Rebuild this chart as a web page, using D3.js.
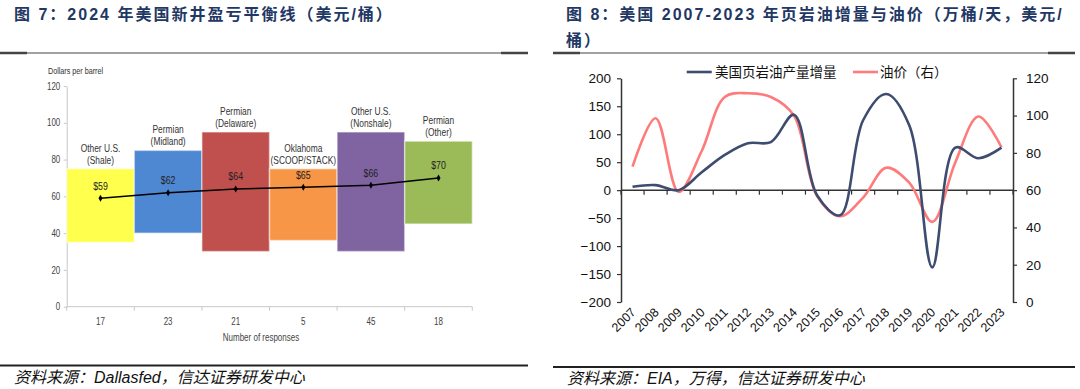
<!DOCTYPE html>
<html>
<head>
<meta charset="utf-8">
<script src="https://cdn.jsdelivr.net/npm/d3@7/dist/d3.min.js"></script>
<style>
  body { margin: 0; background: #fff; }
  svg text { font-family: "Liberation Sans", Arial, "Noto Sans CJK SC", sans-serif; }
  .title { font-weight: bold; fill: #1f3864; font-size: 16px; letter-spacing: 2px; }
  .source { font-style: italic; font-size: 16px; fill: #111; }
</style>
</head>
<body>
<svg id="chart" width="1080" height="389"></svg>
<script>
// ---- data: left chart (breakeven by region)
var regionName = ["Other U.S.", "Permian", "Permian", "Oklahoma", "Other U.S.", "Permian"];
var regionSub = ["(Shale)", "(Midland)", "(Delaware)", "(SCOOP/STACK)", "(Nonshale)", "(Other)"];
var responses = ["17", "23", "21", "5", "45", "18"];
var rangeLow = [35, 40, 30, 36, 30, 45];
var rangeHigh = [75, 85, 95, 75, 95, 90];
var breakeven = [59, 62, 64, 65, 66, 70];
var yTicksLeft = [0, 20, 40, 60, 80, 100, 120];

// ---- data: right chart (shale output change vs oil price)
var years = ["2007", "2008", "2009", "2010", "2011", "2012", "2013", "2014", "2015",
  "2016", "2017", "2018", "2019", "2020", "2021", "2022", "2023"];
var shaleAdd = [6, 9, 0, 32, 63, 84, 86, 135, -9, -45, 125, 172, 116, -138, 76, 57, 76];
var oilPrice = [72.6, 98.6, 59, 81, 110, 112, 110, 100, 57, 46, 56, 72, 64, 43, 75, 99.5, 83];
var shaleTicks = [-200, -150, -100, -50, 0, 50, 100, 150, 200];
var priceTicks = [0, 20, 40, 60, 80, 100, 120];

var barColors = ["#ffff4d", "#4f88d2", "#c0504d", "#f79646", "#8064a2", "#9bbb59"];

var svg = d3.select("#chart");

// narrow-looking text: no condensed font installed, so squeeze horizontally
var squeeze = 0.8;
function placeNarrow(sel, xf, yf) {
  sel.attr("transform", (d, i) => "translate(" + xf(d, i) + "," + yf(d, i) + ") scale(" + squeeze + ",1)");
}

// ---- titles, separators, sources
svg.append("text").attr("class", "title").attr("x", 14).attr("y", 20)
  .text("图 7：2024 年美国新井盈亏平衡线（美元/桶）");
svg.append("text").attr("class", "title").attr("x", 566).attr("y", 20)
  .text("图 8：美国 2007-2023 年页岩油增量与油价（万桶/天，美元/");
svg.append("text").attr("class", "title").attr("x", 566).attr("y", 46)
  .text("桶）");

function separator(x0, x1, y) {
  svg.append("line").attr("x1", x0).attr("x2", x1).attr("y1", y).attr("y2", y)
    .attr("stroke", "#444").attr("stroke-width", 1.2);
  svg.append("line").attr("x1", x0).attr("x2", x0 + 27).attr("y1", y).attr("y2", y)
    .attr("stroke", "#444").attr("stroke-width", 2.5);
  svg.append("line").attr("x1", x1 - 27).attr("x2", x1).attr("y1", y).attr("y2", y)
    .attr("stroke", "#444").attr("stroke-width", 2.5);
}
separator(0, 528, 53);
separator(553, 1075, 53);

svg.append("line").attr("x1", 0).attr("x2", 528).attr("y1", 365.5).attr("y2", 365.5)
  .attr("stroke", "#222").attr("stroke-width", 2);
svg.append("line").attr("x1", 553).attr("x2", 1075).attr("y1", 367).attr("y2", 367)
  .attr("stroke", "#222").attr("stroke-width", 2);
svg.append("text").attr("class", "source").attr("x", 14).attr("y", 383)
  .text("资料来源：Dallasfed，信达证券研发中心");
svg.append("text").attr("class", "source").attr("x", 567).attr("y", 384)
  .text("资料来源：EIA，万得，信达证券研发中心");

// ===================== left chart =====================
var yL = d3.scaleLinear().domain([0, 120]).range([306.7, 86]);
var xL = d3.scaleBand().domain(d3.range(responses.length)).range([66.7, 472.3]);
var bw = xL.bandwidth();

var left = svg.append("g");

left.append("text").attr("font-size", 9).attr("fill", "#333").text("Dollars per barrel")
  .call(placeNarrow, () => 48, () => 74);

var leftAxis = d3.axisLeft(yL).tickValues(yTicksLeft).tickSize(3).tickSizeOuter(0).tickPadding(5);
var yAxisL = left.append("g").attr("transform", "translate(66.7,0)").call(leftAxis);
yAxisL.select(".domain").attr("stroke", "#c8c8c8");
yAxisL.selectAll(".tick line").attr("stroke", "#c8c8c8");
yAxisL.selectAll(".tick text").attr("font-size", 10).attr("fill", "#444")
  .attr("transform", "scale(" + squeeze + ",1)");

// x axis: baseline, boundary ticks, count labels
left.append("line").attr("x1", 66.7).attr("x2", 472.3).attr("y1", yL(0)).attr("y2", yL(0))
  .attr("stroke", "#c8c8c8");
left.selectAll(".bnd").data(d3.range(responses.length + 1)).enter().append("line")
  .attr("x1", d => 66.7 + d * bw).attr("x2", d => 66.7 + d * bw)
  .attr("y1", yL(0)).attr("y2", yL(0) + 4).attr("stroke", "#c8c8c8");
left.selectAll(".cnt").data(responses).enter().append("text")
  .attr("text-anchor", "middle").attr("font-size", 10).attr("fill", "#444")
  .text(d => d)
  .call(placeNarrow, (d, i) => xL(i) + bw / 2, () => 325);
left.append("text")
  .attr("text-anchor", "middle").attr("font-size", 10).attr("fill", "#444")
  .text("Number of responses")
  .call(placeNarrow, () => 261, () => 341);

// floating range bars
left.selectAll(".rng").data(rangeHigh).enter().append("rect")
  .attr("x", (d, i) => xL(i)).attr("width", bw)
  .attr("y", d => yL(d))
  .attr("height", (d, i) => yL(rangeLow[i]) - yL(d))
  .attr("fill", (d, i) => barColors[i])
  .attr("stroke", "rgba(255,255,255,0.45)").attr("stroke-width", 1.5);

// region labels above bars
left.selectAll(".rn").data(regionName).enter().append("text")
  .attr("text-anchor", "middle").attr("font-size", 10.5).attr("fill", "#333")
  .text(d => d)
  .call(placeNarrow, (d, i) => xL(i) + bw / 2, (d, i) => yL(rangeHigh[i]) - 17);
left.selectAll(".rs").data(regionSub).enter().append("text")
  .attr("text-anchor", "middle").attr("font-size", 10.5).attr("fill", "#333")
  .text(d => d)
  .call(placeNarrow, (d, i) => xL(i) + bw / 2, (d, i) => yL(rangeHigh[i]) - 5);

// breakeven line with diamond markers
var beLine = d3.line().x((d, i) => xL(i) + bw / 2).y(d => yL(d));
left.append("path").datum(breakeven).attr("d", beLine)
  .attr("fill", "none").attr("stroke", "#000").attr("stroke-width", 1.5);
left.selectAll(".mk").data(breakeven).enter().append("path")
  .attr("d", d3.symbol().type(d3.symbolDiamond).size(14))
  .attr("transform", (d, i) => "translate(" + (xL(i) + bw / 2) + "," + yL(d) + ")")
  .attr("fill", "#000");
left.selectAll(".lb").data(breakeven).enter().append("text")
  .attr("text-anchor", "middle").attr("font-size", 11).attr("fill", "#222")
  .text(d => "$" + d)
  .call(placeNarrow, (d, i) => xL(i) + bw / 2, d => yL(d) - 8.5);

// ===================== right chart =====================
var xR = d3.scaleBand().domain(years).range([621, 1013]);
var yS = d3.scaleLinear().domain([-200, 200]).range([302, 78.3]);
var yP = d3.scaleLinear().domain([0, 120]).range([302, 78.3]);
var bwR = xR.bandwidth();

var right = svg.append("g");

var axS = right.append("g").attr("transform", "translate(621,0)")
  .call(d3.axisLeft(yS).tickValues(shaleTicks).tickSize(4).tickSizeOuter(0).tickPadding(6));
var axP = right.append("g").attr("transform", "translate(1013,0)")
  .call(d3.axisRight(yP).tickValues(priceTicks).tickSize(4).tickSizeOuter(0).tickPadding(9));
[axS, axP].forEach(function(ax) {
  ax.select(".domain").attr("stroke", "#333").attr("stroke-width", 1.5);
  ax.selectAll(".tick line").attr("stroke", "#333").attr("stroke-width", 1.2);
  ax.selectAll(".tick text").attr("font-size", 13.5).attr("fill", "#111");
});

// category axis at zero
right.append("line").attr("x1", 621).attr("x2", 1013).attr("y1", yS(0)).attr("y2", yS(0))
  .attr("stroke", "#333").attr("stroke-width", 1.5);
right.selectAll(".yt").data(d3.range(years.length + 1)).enter().append("line")
  .attr("x1", d => 621 + d * bwR).attr("x2", d => 621 + d * bwR)
  .attr("y1", yS(0)).attr("y2", yS(0) + 4.5).attr("stroke", "#333").attr("stroke-width", 1.2);
right.selectAll(".yl").data(years).enter().append("text")
  .attr("transform", d => "translate(" + (xR(d) + bwR / 2 + 4) + ",313) rotate(-45)")
  .attr("text-anchor", "end").attr("font-size", 12.5).attr("fill", "#111")
  .text(d => d);

// series
var curve = d3.curveCatmullRom.alpha(0.5);
var shaleLine = d3.line().x((d, i) => xR(years[i]) + bwR / 2).y(d => yS(d)).curve(curve);
var priceLine = d3.line().x((d, i) => xR(years[i]) + bwR / 2).y(d => yP(d)).curve(curve);

right.append("path").datum(oilPrice).attr("d", priceLine)
  .attr("fill", "none").attr("stroke", "#ff7b7b").attr("stroke-width", 2.6);
right.append("path").datum(shaleAdd).attr("d", shaleLine)
  .attr("fill", "none").attr("stroke", "#3e4c70").attr("stroke-width", 2.6);

// legend
right.append("line").attr("x1", 686.7).attr("x2", 711.7).attr("y1", 72).attr("y2", 72)
  .attr("stroke", "#3e4c70").attr("stroke-width", 2.6);
right.append("text").attr("x", 715).attr("y", 77).attr("font-size", 13.5).attr("fill", "#111")
  .text("美国页岩油产量增量");
right.append("line").attr("x1", 853).attr("x2", 878).attr("y1", 72).attr("y2", 72)
  .attr("stroke", "#ff7b7b").attr("stroke-width", 2.6);
right.append("text").attr("x", 880).attr("y", 77).attr("font-size", 13.5).attr("fill", "#111")
  .text("油价（右）");
</script>
</body>
</html>
